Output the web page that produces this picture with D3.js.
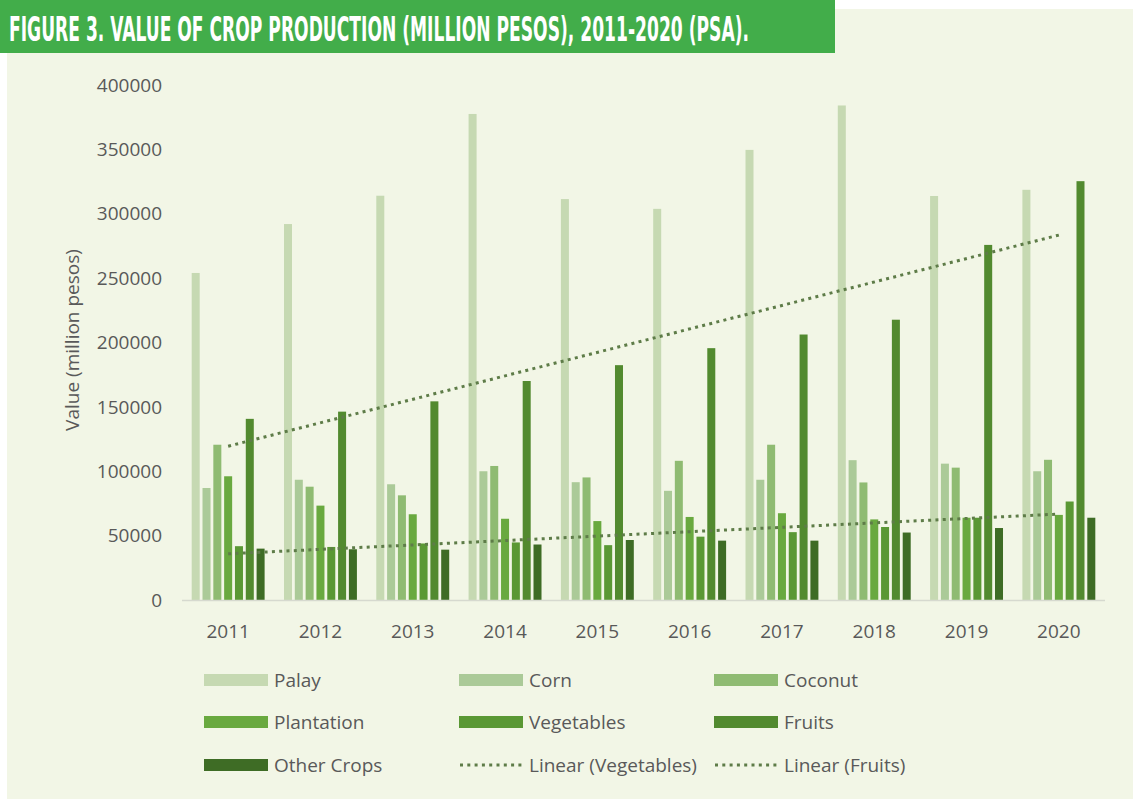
<!DOCTYPE html>
<html>
<head>
<meta charset="utf-8">
<script src="https://cdn.jsdelivr.net/npm/d3@7"></script>
<style>
  body { margin: 0; background: #ffffff; }
  svg { display: block; }
</style>
</head>
<body>
<svg id="chart"></svg>
<script>
// values (million pesos)
var years = ["2011", "2012", "2013", "2014", "2015", "2016", "2017", "2018", "2019", "2020"];
var seriesNames = ["Palay", "Corn", "Coconut", "Plantation", "Vegetables", "Fruits", "Other Crops"];
var palay      = [254000, 292000, 314000, 377500, 311400, 303800, 349600, 384100, 313800, 318600];
var corn       = [87000, 93400, 89900, 100000, 91500, 84800, 93400, 108600, 105900, 100000];
var coconut    = [120600, 88000, 81300, 104100, 95200, 108100, 120600, 91300, 102800, 108900];
var plantation = [96100, 73300, 66600, 63100, 61300, 64500, 67400, 62600, 63900, 66100];
var vegetables = [41800, 41200, 43900, 44700, 42600, 49200, 52700, 56700, 63900, 76500];
var fruits     = [140700, 146300, 154300, 170100, 182400, 195600, 206200, 217700, 275800, 325300];
var otherCrops = [39900, 39400, 39100, 43100, 46600, 46100, 46100, 52400, 55900, 63900];
var yTicks = [0, 50000, 100000, 150000, 200000, 250000, 300000, 350000, 400000];

var colors = ["#c6d9b2", "#abca98", "#8fbb72", "#69a93f", "#5a9834", "#528a2f", "#3e6c25"];
var trendColor = "#5e7c48";

var allSeries = [palay, corn, coconut, plantation, vegetables, fruits, otherCrops];

var W = 1133, H = 803;
var svg = d3.select("#chart").attr("width", W).attr("height", H);

// panel + banner
svg.append("rect").attr("x", 7).attr("y", 9).attr("width", W - 7).attr("height", 790)
  .attr("fill", "#f2f6e6");
svg.append("rect").attr("x", 0).attr("y", 0).attr("width", 835).attr("height", 53)
  .attr("fill", "#42ad4a");
svg.append("text")
  .attr("x", 9).attr("y", 41)
  .attr("fill", "#ffffff")
  .style("font-family", "'DejaVu Sans Condensed', 'Liberation Sans Narrow', sans-serif")
  .style("font-weight", "bold")
  .style("font-size", "34px")
  .attr("textLength", 740).attr("lengthAdjust", "spacingAndGlyphs")
  .text("FIGURE 3. VALUE OF CROP PRODUCTION (MILLION PESOS), 2011-2020 (PSA).");

var plotLeft = 182, plotRight = 1105, plotTop = 85, plotBottom = 600;

var x0 = d3.scaleBand().domain(years).range([plotLeft, plotRight])
  .paddingInner(0.21).paddingOuter(0.105);
var x1 = d3.scaleBand().domain(seriesNames).range([0, x0.bandwidth()])
  .paddingInner(0.26);
var y = d3.scaleLinear().domain([0, 400000]).range([plotBottom, plotTop]);

var font = "'Open Sans', sans-serif";
var grey = "#595959";

// bars
var groups = svg.append("g").selectAll("g")
  .data(years)
  .enter().append("g")
  .attr("transform", d => "translate(" + x0(d) + ",0)");

groups.selectAll("rect")
  .data((yr, i) => seriesNames.map((s, j) => ({ name: s, idx: j, value: allSeries[j][i] })))
  .enter().append("rect")
  .attr("x", d => x1(d.name))
  .attr("width", x1.bandwidth())
  .attr("y", d => y(d.value))
  .attr("height", d => plotBottom - y(d.value))
  .attr("fill", d => colors[d.idx]);

// x axis line
svg.append("line")
  .attr("x1", plotLeft).attr("x2", plotRight)
  .attr("y1", plotBottom + 0.5).attr("y2", plotBottom + 0.5)
  .attr("stroke", "#d6d9cf").attr("stroke-width", 1.5);

// linear trendlines (least squares over the series)
function trend(vals) {
  var n = vals.length;
  var xs = d3.range(1, n + 1);
  var mx = d3.mean(xs), my = d3.mean(vals);
  var sxy = d3.sum(xs, (v, i) => (v - mx) * (vals[i] - my));
  var sxx = d3.sum(xs, v => (v - mx) * (v - mx));
  var b = sxy / sxx, a = my - b * mx;
  return [[years[0], a + b * 1], [years[n - 1], a + b * n]];
}
var line = d3.line()
  .x(d => x0(d[0]) + x0.bandwidth() / 2)
  .y(d => y(d[1]));

[vegetables, fruits].forEach(function (s) {
  svg.append("path")
    .attr("d", line(trend(s)))
    .attr("fill", "none")
    .attr("stroke", trendColor)
    .attr("stroke-width", 3)
    .attr("stroke-dasharray", "3 4.3");
});

// y axis labels
svg.append("g").selectAll("text")
  .data(yTicks)
  .enter().append("text")
  .attr("x", 162)
  .attr("y", d => y(d))
  .attr("dy", "0.35em")
  .attr("text-anchor", "end")
  .attr("fill", grey)
  .style("font-family", font)
  .style("font-size", "19px")
  .text(d => d);

// x axis labels
svg.append("g").selectAll("text")
  .data(years)
  .enter().append("text")
  .attr("x", d => x0(d) + x0.bandwidth() / 2)
  .attr("y", 631)
  .attr("dy", "0.35em")
  .attr("text-anchor", "middle")
  .attr("fill", grey)
  .style("font-family", font)
  .style("font-size", "19px")
  .text(d => d);

svg.append("text")
  .attr("transform", "translate(72,340) rotate(-90)")
  .attr("dy", "0.35em")
  .attr("text-anchor", "middle")
  .attr("fill", grey)
  .style("font-family", font)
  .style("font-size", "19px")
  .text("Value (million pesos)");

// legend
var legendItems = seriesNames.map((s, i) => ({ label: s, color: colors[i], dotted: false }))
  .concat([
    { label: "Linear (Vegetables)", color: trendColor, dotted: true },
    { label: "Linear (Fruits)", color: trendColor, dotted: true }
  ]);
var colX = [204, 459, 714], rowY = [680, 722, 765];

var leg = svg.append("g").selectAll("g")
  .data(legendItems)
  .enter().append("g")
  .attr("transform", (d, i) => "translate(" + colX[i % 3] + "," + rowY[Math.floor(i / 3)] + ")");

leg.filter(d => !d.dotted).append("rect")
  .attr("x", 0).attr("y", -6).attr("width", 64).attr("height", 12)
  .attr("fill", d => d.color);

leg.filter(d => d.dotted).append("line")
  .attr("x1", 1).attr("x2", 64).attr("y1", 0).attr("y2", 0)
  .attr("stroke", d => d.color).attr("stroke-width", 3)
  .attr("stroke-dasharray", "3 4.3");

leg.append("text")
  .attr("x", 70).attr("y", 0).attr("dy", "0.35em")
  .attr("fill", grey)
  .style("font-family", font)
  .style("font-size", "19px")
  .text(d => d.label);
</script>
</body>
</html>
